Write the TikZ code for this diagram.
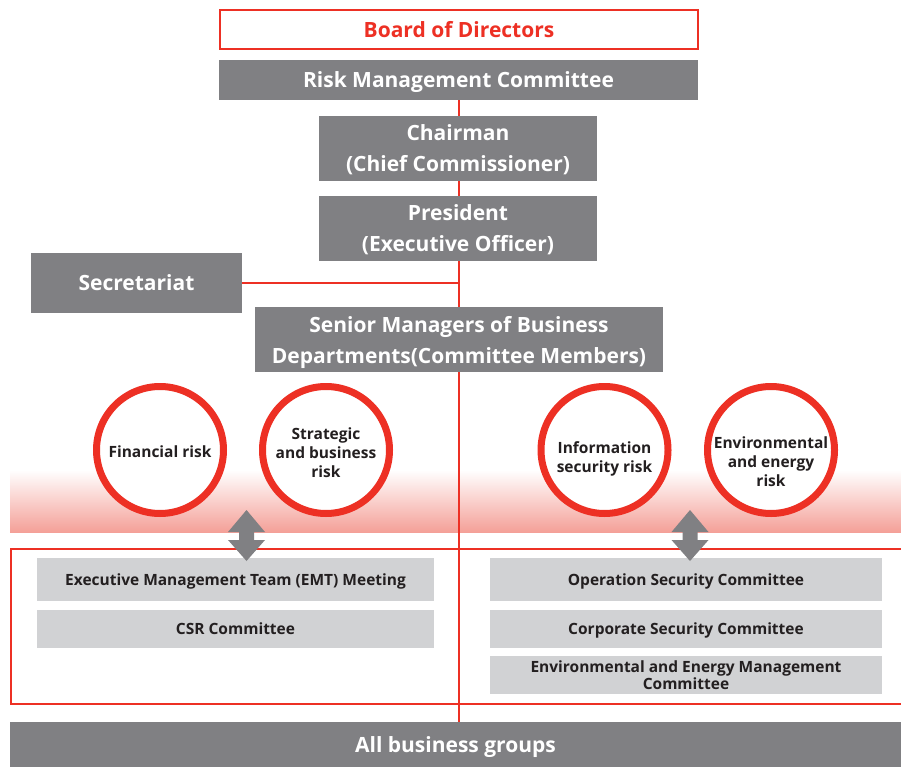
\documentclass[tikz,border=0pt]{standalone}
\usepackage{fontspec}
\setmainfont{Open Sans}
\definecolor{rred}{RGB}{237,48,36}
\definecolor{dgray}{RGB}{128,128,131}
\definecolor{lgray}{RGB}{209,210,212}
\definecolor{bandpink}{RGB}{244,160,152}
\definecolor{txt}{RGB}{35,31,32}
\begin{document}
\begin{tikzpicture}[x=1pt,y=-1pt,
  graybox/.style={fill=dgray,text=white,font=\fontsize{21}{31}\selectfont\bfseries,align=center,inner sep=0pt,text depth=0pt},
  lightbox/.style={fill=lgray,text=txt,font=\fontsize{15.5}{16.5}\selectfont\bfseries,align=center,inner sep=0pt,text depth=0pt},
  riskcircle/.style={circle,draw=rred,line width=7pt,fill=white,minimum size=127pt,inner sep=0pt},
  circletext/.style={text=txt,font=\fontsize{15.5}{19}\selectfont\bfseries,align=center,inner sep=0pt},
  redline/.style={draw=rred,line width=1.2pt},
  dblarrow/.style={fill=dgray,draw=none}]
\useasboundingbox (0,0) rectangle (901,767);
% gradient band
\shade[top color=white,bottom color=bandpink] (10,470) rectangle (901,532);
% boxes
\node[draw=rred,line width=1.2pt,fill=white,minimum width=478pt,minimum height=39pt,text=rred,font=\fontsize{21}{24}\selectfont\bfseries,inner sep=0pt] (bod) at (459,29.5) {Board of Directors};
\node[graybox,minimum width=479pt,minimum height=40pt] (rmc) at (458.5,80) {Risk Management Committee};
\node[graybox,minimum width=278pt,minimum height=65pt] (chair) at (458,148.5) {Chairman\\(Chief Commissioner)};
\node[graybox,minimum width=278pt,minimum height=65pt] (pres) at (458,228.5) {President\\(Executive Officer)};
\node[graybox,minimum width=211pt,minimum height=60pt] (sec) at (136.5,283) {Secretariat};
\node[graybox,minimum width=408pt,minimum height=65pt] (senior) at (459,339.5) {Senior Managers of Business\\Departments(Committee Members)};
\node[graybox,minimum width=891pt,minimum height=45pt] (all) at (455.5,744.5) {All business groups};
% connectors
\coordinate (j1) at (459,283);
\draw[redline] (rmc.south -| j1) -- (chair.north -| j1);
\draw[redline] (chair.south -| j1) -- (pres.north -| j1);
\draw[redline] (pres.south -| j1) -- (senior.north -| j1);
\draw[redline] (sec.east) -- (j1);
\draw[redline] (senior.south -| j1) -- (all.north -| j1);
% outline rectangle
\draw[redline] (901,549) -- (11,549) -- (11,704) -- (901,704);
% circles
\node[riskcircle] (fin) at (160,450) {};
\node[riskcircle] (strat) at (326,450) {};
\node[riskcircle] (info) at (604.5,450) {};
\node[riskcircle] (env) at (771,450) {};
\node[circletext] (fint) at (160,452) {Financial risk};
\node[circletext] (stratt) at (326,453) {Strategic\\and business\\risk};
\node[circletext] (infot) at (604.5,458.5) {Information\\security risk};
\node[circletext] (envt) at (771,462) {Environmental\\and energy\\risk};
% committee boxes
\node[lightbox,minimum width=397pt,minimum height=43pt] (emt) at (235.5,579.5) {Executive Management Team (EMT) Meeting};
\node[lightbox,minimum width=397pt,minimum height=38pt] (csr) at (235.5,629) {CSR Committee};
\node[lightbox,minimum width=392pt,minimum height=43pt] (ops) at (686,579.5) {Operation Security Committee};
\node[lightbox,minimum width=392pt,minimum height=38pt] (corp) at (686,629) {Corporate Security Committee};
\node[lightbox,minimum width=392pt,minimum height=38pt] (envm) at (686,675) {Environmental and Energy Management\\Committee};
% double arrows
\foreach \cx/\nm in {246.5/la,690/ra}{
  \fill[dblarrow] (\cx,510) -- (\cx+18.5,532) -- (\cx+7.5,532) -- (\cx+7.5,540) -- (\cx+18.5,540) -- (\cx,561) -- (\cx-18.5,540) -- (\cx-7.5,540) -- (\cx-7.5,532) -- (\cx-18.5,532) -- cycle;
}
\end{tikzpicture}
\end{document}
